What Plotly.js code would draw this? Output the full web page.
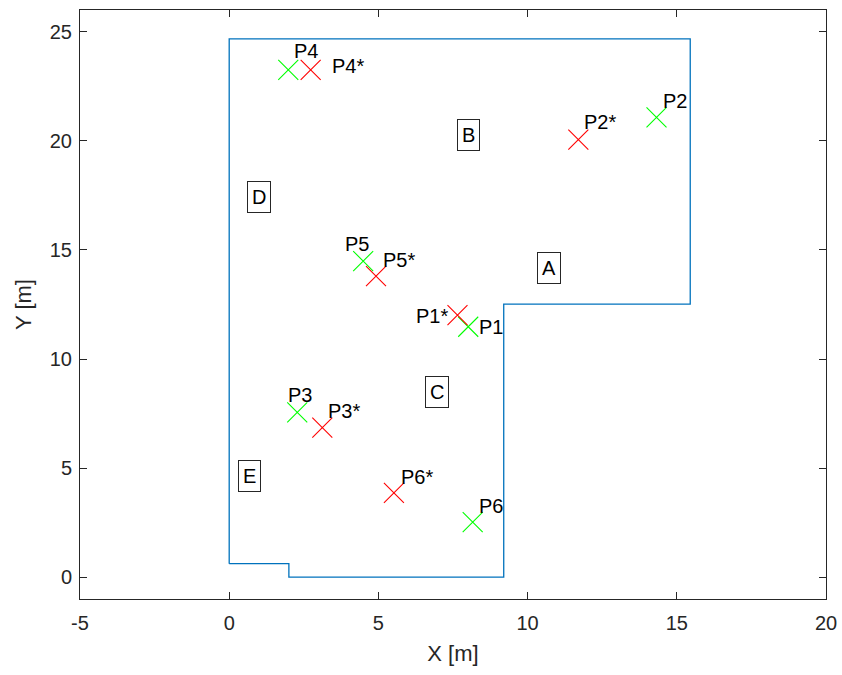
<!DOCTYPE html>
<html>
<head>
<meta charset="utf-8">
<script src="https://cdn.plot.ly/plotly-3.0.1.min.js"></script>
<style>html,body{margin:0;padding:0;background:#fff;}#chart{width:842px;height:675px;}</style>
</head>
<body>
<div id="chart"></div>
<script>
// Room boundary
const boundaryX = [0, 0, 15.45, 15.45, 9.2, 9.2, 2.0, 2.0, 0];
const boundaryY = [0.62, 24.68, 24.68, 12.52, 12.52, 0, 0, 0.62, 0.62];

// True positions (green)
const trueNames = ["P1", "P2", "P3", "P4", "P5", "P6"];
const trueX = [8.01, 14.32, 2.28, 1.98, 4.49, 8.16];
const trueY = [11.48, 21.08, 7.56, 23.26, 14.49, 2.52];
const trueLabelX = [8.31, 14.46, 1.90, 2.10, 3.82, 8.29];
const trueLabelY = [11.48, 21.84, 8.35, 24.10, 15.26, 3.25];

// Estimated positions (red)
const estNames = ["P1*", "P2*", "P3*", "P4*", "P5*", "P6*"];
const estX = [7.65, 11.70, 3.12, 2.73, 4.92, 5.52];
const estY = [12.01, 20.06, 6.86, 23.26, 13.80, 3.86];
const estLabelX = [7.40, 11.81, 3.24, 3.37, 5.08, 5.69];
const estLabelY = [11.97, 20.85, 7.64, 23.45, 14.56, 4.59];

// Region labels
const regionNames = ["A", "B", "C", "D", "E"];
const regionX = [10.72, 8.01, 6.98, 1.01, 0.67];
const regionY = [14.19, 20.27, 8.50, 17.42, 4.65];

// Tick labels
const xTickVals = [-5, 0, 5, 10, 15, 20];
const xTickText = ["-5", "0", "5", "10", "15", "20"];
const yTickVals = [0, 5, 10, 15, 20, 25];
const yTickText = ["0", "5", "10", "15", "20", "25"];

const FONT = "Liberation Sans, Arial, sans-serif";

const traces = [
  {x: boundaryX, y: boundaryY, mode: "lines", type: "scatter",
   line: {color: "#0072BD", width: 1.3}, hoverinfo: "skip"},
  {x: trueX, y: trueY, mode: "markers", type: "scatter",
   marker: {symbol: "x-thin", size: 20, color: "#00FF00", line: {color: "#00FF00", width: 1.1}}},
  {x: estX, y: estY, mode: "markers", type: "scatter",
   marker: {symbol: "x-thin", size: 20, color: "#FF0000", line: {color: "#FF0000", width: 1.1}}}
];

const annotations = [];
trueNames.forEach((n, i) => annotations.push({
  x: trueLabelX[i], y: trueLabelY[i], xref: "x", yref: "y", text: n, showarrow: false,
  xanchor: "left", yanchor: "middle", font: {family: FONT, size: 20, color: "#000"}
}));
estNames.forEach((n, i) => annotations.push({
  x: estLabelX[i], y: estLabelY[i], xref: "x", yref: "y", text: n, showarrow: false,
  xanchor: n === "P1*" ? "right" : "left", yanchor: "middle", font: {family: FONT, size: 20, color: "#000"}
}));
regionNames.forEach((n, i) => annotations.push({
  x: regionX[i], y: regionY[i], xref: "x", yref: "y", text: n, showarrow: false,
  xanchor: "center", yanchor: "middle", bordercolor: "#262626", borderwidth: 1, borderpad: 4,
  bgcolor: "#fff", font: {family: FONT, size: 20, color: "#000"}
}));

const axisCommon = {
  showgrid: false, zeroline: false, showline: true, mirror: "ticks",
  linecolor: "#262626", linewidth: 1, ticks: "inside", ticklen: 7, tickcolor: "#262626",
  tickfont: {family: FONT, size: 20, color: "#262626"}
};

const layout = {
  width: 842, height: 675,
  margin: {l: 80, r: 16, t: 10, b: 76},
  paper_bgcolor: "#fff", plot_bgcolor: "#fff",
  showlegend: false,
  xaxis: Object.assign({}, axisCommon, {
    range: [-5, 20], tickmode: "array", tickvals: xTickVals, ticktext: xTickText,
    ticklabelstandoff: 6,
    title: {text: "X [m]", font: {family: FONT, size: 22, color: "#262626"}, standoff: 12}
  }),
  yaxis: Object.assign({}, axisCommon, {
    range: [-1, 26], tickmode: "array", tickvals: yTickVals, ticktext: yTickText,
    ticklabelstandoff: 3,
    title: {text: "Y [m]", font: {family: FONT, size: 22, color: "#262626"}, standoff: 12}
  }),
  annotations: annotations
};

Plotly.newPlot("chart", traces, layout, {displayModeBar: false, staticPlot: true});
</script>
</body>
</html>
